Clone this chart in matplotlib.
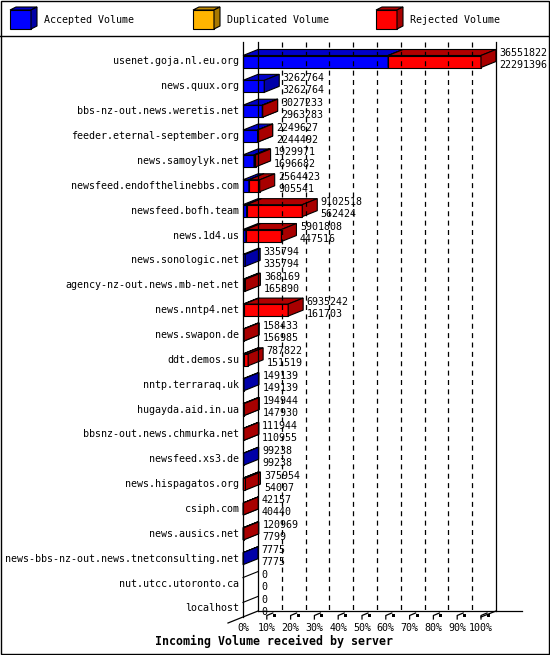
import matplotlib
matplotlib.use('Agg')
import matplotlib.pyplot as plt
from matplotlib.patches import Polygon, Rectangle

servers = ["usenet.goja.nl.eu.org", "news.quux.org", "bbs-nz-out.news.weretis.net",
           "feeder.eternal-september.org", "news.samoylyk.net",
           "newsfeed.endofthelinebbs.com", "newsfeed.bofh.team", "news.1d4.us",
           "news.sonologic.net", "agency-nz-out.news.mb-net.net", "news.nntp4.net",
           "news.swapon.de", "ddt.demos.su", "nntp.terraraq.uk", "hugayda.aid.in.ua",
           "bbsnz-out.news.chmurka.net", "newsfeed.xs3.de", "news.hispagatos.org",
           "csiph.com", "news.ausics.net", "news-bbs-nz-out.news.tnetconsulting.net",
           "nut.utcc.utoronto.ca", "localhost"]
total = [36551822, 3262764, 3027233, 2249627, 1929971, 2564423, 9102518, 5901808,
         335794, 368169, 6935242, 158433, 787822, 149139, 194944, 111944, 99238,
         375954, 42157, 120969, 7775, 0, 0]
accepted = [22291396, 3262764, 2963283, 2244492, 1696682, 905541, 562424, 447516,
            335794, 165890, 161703, 156985, 151519, 149139, 147930, 110955, 99238,
            54007, 40440, 7799, 7775, 0, 0]
pct_labels = ['%d%%' % p for p in range(0, 101, 10)]
legend_names = ['Accepted Volume', 'Duplicated Volume', 'Rejected Volume']

# colours (front, top, side)
BLUE = ('#0000ff', '#0000c8', '#0000a8')
ORANGE = ('#ffb400', '#c08800', '#a87800')
RED = ('#ff0000', '#b00000', '#a80000')

W, H_IMG = 550, 655
fig = plt.figure(figsize=(5.5, 6.55), dpi=100)
fig.patch.set_facecolor('white')
mono = 'DejaVu Sans Mono'
FS = 7.2

# pixel overlay for frame, legend and title
fr = fig.add_axes([0, 0, 1, 1])
fr.set_xlim(0, W)
fr.set_ylim(H_IMG, 0)
fr.axis('off')
fr.add_patch(Rectangle((0.5, 0.5), W - 1.5, H_IMG - 1.5, fill=False, ec='black', lw=1))
fr.plot([0, W], [36, 36], color='black', lw=1)

def box3d(a, x0, x1, yc, hh, dx, dy, cols, lw=0.8):
    # front, top, side of one bar segment
    a.add_patch(Polygon([(x0, yc - hh), (x1, yc - hh), (x1, yc + hh), (x0, yc + hh)],
                        closed=True, fc=cols[0], ec='black', lw=lw))
    a.add_patch(Polygon([(x0, yc - hh), (x0 + dx, yc - hh - dy), (x1 + dx, yc - hh - dy),
                         (x1, yc - hh)], closed=True, fc=cols[1], ec='black', lw=lw))
    a.add_patch(Polygon([(x1, yc - hh), (x1 + dx, yc - hh - dy), (x1 + dx, yc + hh - dy),
                         (x1, yc + hh)], closed=True, fc=cols[2], ec='black', lw=lw))

for name, cols, lx in zip(legend_names, [BLUE, ORANGE, RED], [10, 193, 376]):
    box3d(fr, lx, lx + 21, 19.5, 9.5, 6, 3, cols)
    fr.text(lx + 34, 20, name, fontsize=FS, family=mono, va='center', ha='left')

fr.text(274, 641, 'Incoming Volume received by server', fontsize=8.4, family=mono,
        weight='bold', ha='center', va='center')

# plot axes: x = fraction of max volume, y = row index
SX, SY = 238.0, 24.86
X0PX, Y0PX = 243.0, 61.5
L, R, T, B = 225, 535, 38, 628
ax = fig.add_axes([L / W, 1 - B / H_IMG, (R - L) / W, (B - T) / H_IMG])
ax.set_xlim((L - X0PX) / SX, (R - X0PX) / SX)
ax.set_ylim((B - Y0PX) / SY, (T - Y0PX) / SY)
ax.axis('off')

def px_x(p):
    return (p - X0PX) / SX

def px_y(p):
    return (p - Y0PX) / SY

DX, DY, HH = 15 / SX, 6 / SY, 6 / SY
ytop = px_y(42)
yfloor_b = px_y(611)
yfloor_f = px_y(617)

# back wall grid
for k in range(11):
    xg = DX + k * 0.1
    ls = '-' if k in (0, 10) else (0, (4, 3.5))
    ax.plot([xg, xg], [ytop, yfloor_b], color='black', lw=0.9, ls=ls)
# front axis line
ax.plot([0, 0], [ytop, yfloor_f], color='black', lw=0.9)
# floor
ax.plot([DX, px_x(522)], [yfloor_b, yfloor_b], color='black', lw=0.9)
ax.plot([px_x(228), DX], [px_y(623), yfloor_b], color='black', lw=0.9)
ax.plot([1.0, 1.0 + DX], [yfloor_f, yfloor_b], color='black', lw=0.9)
for k in range(11):
    xk = k * 0.1
    if k > 0:
        ax.plot([xk, xk, xk + 6 / SX], [px_y(619), px_y(615.5), px_y(613)],
                color='black', lw=0.9)
        ax.add_patch(Rectangle((xk + 6 / SX, px_y(614)), 3 / SX, 2.5 / SY,
                               fc='black', ec='none'))
    ax.text(xk, px_y(628), pct_labels[k], fontsize=FS, family=mono,
            ha='center', va='center')

vmax = max(total)
for i, name in enumerate(servers):
    ax.text(px_x(239), i, name, fontsize=FS, family=mono, ha='right', va='center')
    fa = accepted[i] / vmax
    ft = total[i] / vmax
    if total[i] == 0:
        ax.plot([0, DX], [i - HH, i - HH - DY], color='black', lw=0.8)
    else:
        if accepted[i] > 0:
            box3d(ax, 0, fa, i, HH, DX, DY, BLUE)
        if total[i] > accepted[i]:
            box3d(ax, fa, ft, i, HH, DX, DY, RED)
    tx = ft + 18.5 / SX
    ax.text(tx, i - 8.5 / SY, str(total[i]), fontsize=FS, family=mono,
            ha='left', va='center')
    ax.text(tx, i + 3.5 / SY, str(accepted[i]), fontsize=FS, family=mono,
            ha='left', va='center')

fig.savefig('out.png', dpi=100, facecolor='white')
